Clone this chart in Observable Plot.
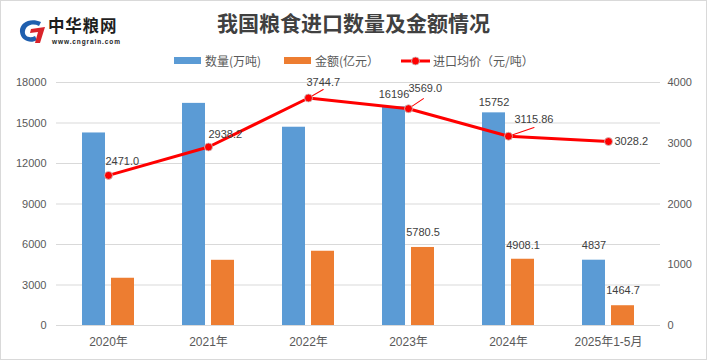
<!DOCTYPE html>
<html>
<head>
<meta charset="utf-8">
<script src="https://cdn.jsdelivr.net/npm/d3@7"></script>
<script src="https://cdn.jsdelivr.net/npm/@observablehq/plot@0.6"></script>
<style>
  html, body { margin: 0; padding: 0; background: #fff; }
  #chart { position: relative; width: 707px; height: 360px; box-sizing: border-box; border: 1px solid #d9d9d9; background: #fff; overflow: hidden; }
  #header { position: relative; height: 70px; font-family: "Liberation Sans", "Noto Sans CJK SC", sans-serif; }
  #logo-icon { position: absolute; left: 17px; top: 17px; }
  #logo-name { position: absolute; left: 47px; top: 16px; font: 700 16.5px/16px "Noto Sans CJK SC", sans-serif; color: #1e1e1e; letter-spacing: 0.8px; }
  #logo-url { position: absolute; left: 51px; top: 37px; font: 700 6.5px/7px "Liberation Sans", sans-serif; color: #222; letter-spacing: 0.9px; }
  #title { position: absolute; left: 0; width: 705px; top: 6px; text-align: center; font: 700 21px/30px "Noto Sans CJK SC", sans-serif; color: #404040; }
  .lg { position: absolute; top: 52px; font: 400 12px/16px "Noto Sans CJK SC", sans-serif; color: #595959; }
  .sw { position: absolute; }
</style>
</head>
<body>
<div id="chart">
  <div id="header">
    <svg id="logo-icon" width="30" height="26" viewBox="0 0 30 26">
      <path d="M23 4 C12 -1 1 5 2 14 C3 23 13 26 19 22 L17 18 C11 21 6 18 7 13 C8 7 15 5 21 8 Z" fill="#1f5fae"/>
      <path d="M13 11 L27 9 L22 25 L17 25 L20 14 L12 15 Z" fill="#d9232a"/>
    </svg>
    <div id="logo-name">中华粮网</div>
    <div id="logo-url">www.cngrain.com</div>
    <div id="title">我国粮食进口数量及金额情况</div>
    <div class="sw" style="left:173px; top:56px; width:27px; height:7px; background:#5B9BD5;"></div>
    <div class="lg" style="left:204px;">数量(万吨)</div>
    <div class="sw" style="left:283px; top:56px; width:27px; height:7px; background:#ED7D31;"></div>
    <div class="lg" style="left:314px;">金额(亿元）</div>
    <svg class="sw" style="left:400px; top:54px;" width="30" height="12">
      <line x1="0" y1="6" x2="29" y2="6" stroke="#FF0000" stroke-width="3"/>
      <circle cx="14.5" cy="6" r="4" fill="#FF0000" stroke="#c8c8c8" stroke-width="0.8"/>
    </svg>
    <div class="lg" style="left:432px;">进口均价（元/吨）</div>
  </div>
  <div id="plot"></div>
</div>
<script>
// ---- data ----
const categories = ["2020年", "2021年", "2022年", "2023年", "2024年", "2025年1-5月"];
const quantity = [14262, 16454, 14687, 16196, 15752, 4837];      // 数量(万吨)
const amount = [3500, 4830, 5500, 5780.5, 4908.1, 1464.7];       // 金额(亿元)
const price = [2471.0, 2938.2, 3744.7, 3569.0, 3115.86, 3028.2]; // 进口均价(元/吨)
const priceLabels = ["2471.0", "2938.2", "3744.7", "3569.0", "3115.86", "3028.2"];
const quantityLabelIdx = [3, 4, 5];
const amountLabelIdx = [3, 4, 5];
const leftTicks = [0, 3000, 6000, 9000, 12000, 15000, 18000];
const rightTicks = [0, 1000, 2000, 3000, 4000];

const LEFT_MAX = 18000, RIGHT_MAX = 4000;
const RATIO = LEFT_MAX / RIGHT_MAX;

const rows = categories.map((c, i) => ({
  category: c, quantity: quantity[i], amount: amount[i], price: price[i],
  priceY: price[i] * RATIO, priceLabel: priceLabels[i]
}));

const FONT = '"Liberation Sans", "Noto Sans CJK SC", sans-serif';

// label placement (style, not data)
const priceLabelOffsets = [[-3, -14], [0, -13], [-2, -16], [0, -20], [6, -17], [6, 0]];
const qDy = {3: -12, 4: -10, 5: -15};
const aDy = {3: -15, 4: -14, 5: -15};
const leaders = [{i: 2, len: 17, rot: 60}, {i: 3, len: 18, rot: 56}, {i: 4, len: 27, rot: 71}];
const lineShape = { draw(context, l) { context.moveTo(0, 0); context.lineTo(0, -l); } };

const marks = [
  Plot.ruleY(leftTicks, {stroke: "#d9d9d9", strokeWidth: 1}),
  Plot.barY(rows, {x: "category", y: "quantity", fill: "#5B9BD5", insetLeft: 24, insetRight: 53}),
  Plot.barY(rows, {x: "category", y: "amount", fill: "#ED7D31", insetLeft: 53, insetRight: 24}),
  Plot.axisY({ticks: leftTicks, tickSize: 0, tickPadding: 10, tickFormat: d => String(d), fontSize: 11}),
  Plot.axisY({anchor: "right", ticks: rightTicks.map(v => v * RATIO), tickSize: 0, tickPadding: 7,
              tickFormat: d => String(Math.round(d / RATIO)), fontSize: 11}),
  Plot.axisX({tickSize: 0, tickPadding: 12, fontSize: 12}),
  Plot.line(rows, {x: "category", y: "priceY", stroke: "#FF0000", strokeWidth: 3}),
  ...leaders.map(({i, len, rot}) => Plot.vector([rows[i]], {
    x: "category", y: "priceY", length: len, rotate: rot, anchor: "start",
    shape: lineShape, stroke: "#FF0000", strokeWidth: 1
  })),
  Plot.dot(rows, {x: "category", y: "priceY", r: 4, fill: "#FF0000", stroke: "#c8c8c8", strokeWidth: 0.8}),
  ...priceLabelOffsets.map(([dx, dy], i) => Plot.text([rows[i]], {
    x: "category", y: "priceY", text: "priceLabel", textAnchor: "start", dx, dy,
    fill: "#404040", fontSize: 11
  })),
  ...quantityLabelIdx.map(i => Plot.text([rows[i]], {
    x: "category", y: "quantity", text: d => String(d.quantity), dx: -14.5, dy: qDy[i],
    fill: "#404040", fontSize: 11
  })),
  ...amountLabelIdx.map(i => Plot.text([rows[i]], {
    x: "category", y: "amount", text: d => String(d.amount), dx: 14.5, dy: aDy[i],
    fill: "#404040", fontSize: 11
  }))
];

const chart = Plot.plot({
  width: 705,
  height: 288,
  marginTop: 11,
  marginBottom: 34,
  marginLeft: 55,
  marginRight: 46,
  style: {fontFamily: FONT, fontSize: "11px", color: "#595959", background: "transparent", overflow: "visible"},
  x: {domain: categories, padding: 0, label: null},
  y: {domain: [0, LEFT_MAX], label: null},
  marks
});
document.getElementById("plot").appendChild(chart);
</script>
</body>
</html>
